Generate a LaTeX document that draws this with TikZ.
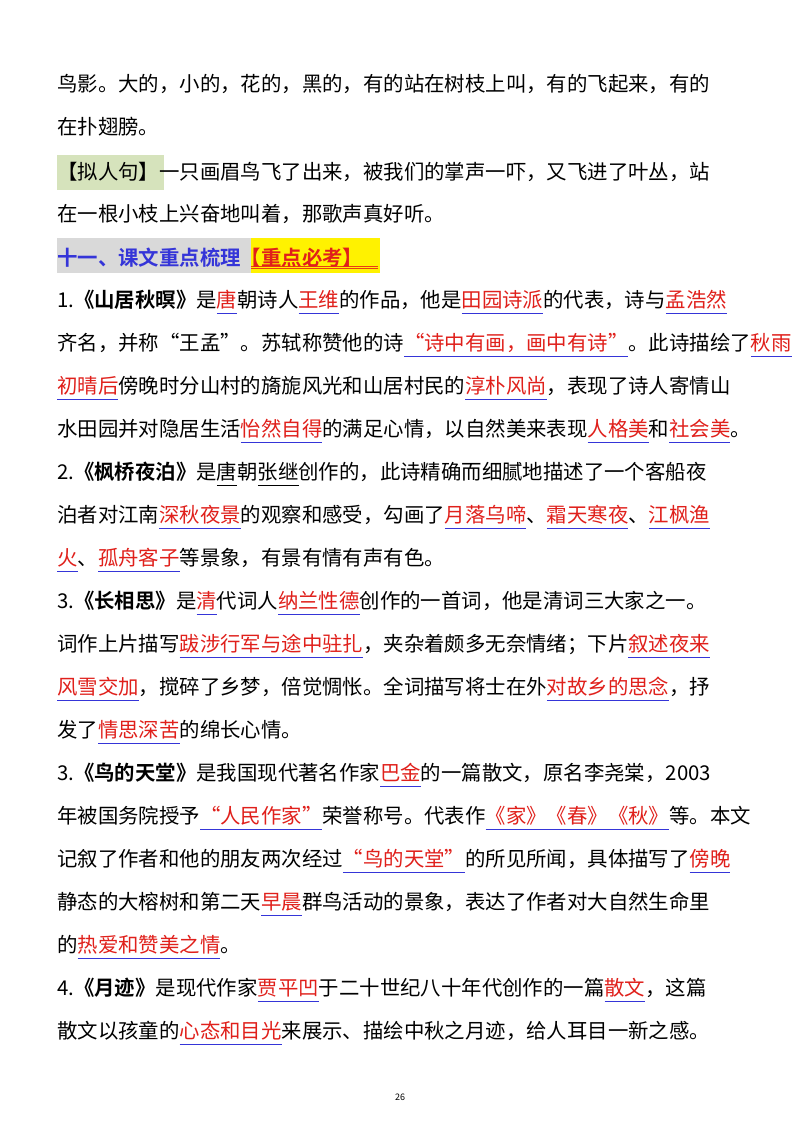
\documentclass[tikz,border=0pt]{standalone}
\usepackage{fontspec}
\setmainfont[BoldFont={Noto Sans CJK SC Bold}]{Noto Sans CJK SC}
\definecolor{ured}{HTML}{E0201B}
\definecolor{ublue}{HTML}{3535D8}
\definecolor{hgreen}{HTML}{D6E3BC}
\definecolor{hgray}{HTML}{D9D9D9}
\newsavebox\ubox
\newcommand\bu[1]{\sbox\ubox{\textcolor{ured}{#1}}\rlap{\textcolor{ublue}{\rule[-0.32em]{\wd\ubox}{0.9pt}}}\usebox\ubox}
\newcommand\bk[1]{\sbox\ubox{#1}\rlap{\rule[-0.32em]{\wd\ubox}{0.9pt}}\usebox\ubox}
\newcommand\fl[1]{\makebox[686pt][s]{#1}}
\XeTeXinterchartokenstate=1
\XeTeXinterchartoks 1 1 = {\hskip0pt plus 1pt}
\XeTeXinterchartoks 1 2 = {\hskip0pt plus 1pt}
\XeTeXinterchartoks 1 3 = {\hskip0pt plus 1pt}
\XeTeXinterchartoks 3 1 = {\hskip0pt plus 1pt}
\XeTeXinterchartoks 3 2 = {\hskip0pt plus 1pt}
\XeTeXinterchartoks 2 1 = {\hskip0pt plus 1pt}
\XeTeXinterchartoks 0 1 = {\hskip0pt plus 1pt}
\XeTeXinterchartoks 1 0 = {\hskip0pt plus 1pt}
\begin{document}
\begin{tikzpicture}[x=1pt,y=-1pt,
  ln/.style={anchor=base west,inner sep=0pt,font=\fontsize{20.4}{24}\selectfont}]
\fill[white] (0,0) rectangle (800,1132);
\useasboundingbox (0,0) rectangle (800,1132);
\node[ln] (l1) at (57,92) {\fl{鸟影。大的，小的，花的，黑的，有的站在树枝上叫，有的飞起来，有的}};
\node[ln] (l2) at (57,134) {在扑翅膀。};
\fill[hgreen] (57,155) rectangle (164,190);
\node[ln] (l3) at (57,179) {\fl{【拟人句】一只画眉鸟飞了出来，被我们的掌声一吓，又飞进了叶丛，站}};
\node[ln] (l4) at (57,221) {在一根小枝上兴奋地叫着，那歌声真好听。};
\fill[hgray] (57,238) rectangle (251,273);
\fill[yellow] (251,238) rectangle (380,273);
\draw[ured!70!orange,line width=0.8pt] (251,266) -- (378,266) (251,268.5) -- (378,268.5);
\node[ln,font=\fontsize{20.4}{24}\selectfont\bfseries] (l5) at (57,265) {\textcolor{ublue}{十一、课文重点梳理}\textcolor{ured}{【重点必考】}};
\node[ln] (l6) at (57,307) {\fl{1.\textbf{《山居秋暝》}是\bu{唐}朝诗人\bu{王维}的作品，他是\bu{田园诗派}的代表，诗与\bu{孟浩然}}};
\node[ln] (l7) at (57,350) {\fl{齐名，并称“王孟”。苏轼称赞他的诗\bu{“诗中有画，画中有诗”}。此诗描绘了\bu{秋雨}}};
\node[ln] (l8) at (57,393) {\fl{\bu{初晴后}傍晚时分山村的旖旎风光和山居村民的\bu{淳朴风尚}，表现了诗人寄情山}};
\node[ln] (l9) at (57,436) {\fl{水田园并对隐居生活\bu{怡然自得}的满足心情，以自然美来表现\bu{人格美}和\bu{社会美}。}};
\node[ln] (l10) at (57,479) {\fl{2.\textbf{《枫桥夜泊》}是\bk{唐}朝\bk{张继}创作的，此诗精确而细腻地描述了一个客船夜}};
\node[ln] (l11) at (57,522) {\fl{泊者对江南\bu{深秋夜景}的观察和感受，勾画了\bu{月落乌啼}、\bu{霜天寒夜}、\bu{江枫渔}}};
\node[ln] (l12) at (57,565) {\bu{火}、\bu{孤舟客子}等景象，有景有情有声有色。};
\node[ln] (l13) at (57,608) {\fl{3.\textbf{《长相思》}是\bu{清}代词人\bu{纳兰性德}创作的一首词，他是清词三大家之一。}};
\node[ln] (l14) at (57,651) {\fl{词作上片描写\bu{跋涉行军与途中驻扎}，夹杂着颇多无奈情绪；下片\bu{叙述夜来}}};
\node[ln] (l15) at (57,694) {\fl{\bu{风雪交加}，搅碎了乡梦，倍觉惆怅。全词描写将士在外\bu{对故乡的思念}，抒}};
\node[ln] (l16) at (57,737) {发了\bu{情思深苦}的绵长心情。};
\node[ln] (l17) at (57,780) {\fl{3.\textbf{《鸟的天堂》}是我国现代著名作家\bu{巴金}的一篇散文，原名李尧棠，2003}};
\node[ln] (l18) at (57,823) {\fl{年被国务院授予\bu{“人民作家”}荣誉称号。代表作\bu{《家》《春》《秋》}等。本文}};
\node[ln] (l19) at (57,866) {\fl{记叙了作者和他的朋友两次经过\bu{“鸟的天堂”}的所见所闻，具体描写了\bu{傍晚}}};
\node[ln] (l20) at (57,909) {\fl{静态的大榕树和第二天\bu{早晨}群鸟活动的景象，表达了作者对大自然生命里}};
\node[ln] (l21) at (57,952) {的\bu{热爱和赞美之情}。};
\node[ln] (l22) at (57,995) {\fl{4.\textbf{《月迹》}是现代作家\bu{贾平凹}于二十世纪八十年代创作的一篇\bu{散文}，这篇}};
\node[ln] (l23) at (57,1038) {\fl{散文以孩童的\bu{心态和目光}来展示、描绘中秋之月迹，给人耳目一新之感。}};
\node[font=\fontsize{9}{10}\selectfont,inner sep=0pt] (pg) at (400,1097) {26};
\end{tikzpicture}
\end{document}
